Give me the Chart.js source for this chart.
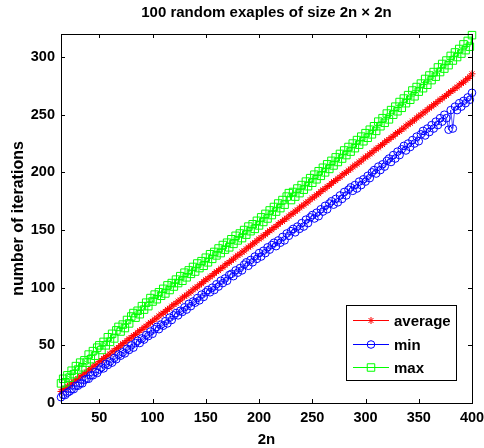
<!DOCTYPE html>
<html>
<head>
<meta charset="utf-8">
<script src="https://cdn.jsdelivr.net/npm/chart.js@4.4.1/dist/chart.umd.min.js"></script>
<style>
  html, body { margin: 0; padding: 0; background: #fff; }
  #wrap { width: 484px; height: 448px; }
</style>
</head>
<body>
<div id="wrap"><canvas id="iterChart" width="484" height="448"></canvas></div>
<script>
// matrix size 2n
const sizes = [
  14,16,18,20,22,24,26,28,30,32,34,36,38,40,42,44,46,48,50,52,
  54,56,58,60,62,64,66,68,70,72,74,76,78,80,82,84,86,88,90,92,
  94,96,98,100,102,104,106,108,110,112,114,116,118,120,122,124,126,128,130,132,
  134,136,138,140,142,144,146,148,150,152,154,156,158,160,162,164,166,168,170,172,
  174,176,178,180,182,184,186,188,190,192,194,196,198,200,202,204,206,208,210,212,
  214,216,218,220,222,224,226,228,230,232,234,236,238,240,242,244,246,248,250,252,
  254,256,258,260,262,264,266,268,270,272,274,276,278,280,282,284,286,288,290,292,
  294,296,298,300,302,304,306,308,310,312,314,316,318,320,322,324,326,328,330,332,
  334,336,338,340,342,344,346,348,350,352,354,356,358,360,362,364,366,368,370,372,
  374,376,378,380,382,384,386,388,390,392,394,396,398,400
];

const avgIters = [
  10.0,11.8,12.5,14.6,15.4,17.5,18.2,20.3,21.1,23.2,
  24.0,25.9,26.8,28.7,29.6,31.5,32.9,33.8,35.9,36.7,
  38.6,40.1,41.0,42.5,44.4,45.3,47.2,48.0,49.9,51.5,
  52.3,54.2,55.7,56.6,58.5,59.4,61.3,62.8,63.7,65.6,
  66.5,68.4,69.9,70.8,72.7,73.6,75.5,77.0,77.9,79.4,
  81.2,82.1,84.0,85.5,86.4,88.3,89.2,91.1,92.6,93.5,
  95.4,96.3,98.2,99.7,100.6,102.5,103.4,105.3,106.9,107.7,
  109.6,110.5,112.4,113.9,114.8,116.7,117.6,119.5,121.0,121.9,
  123.8,124.7,126.6,128.1,129.0,130.9,131.8,133.7,135.2,136.1,
  138.0,138.9,140.8,142.3,143.2,145.1,146.0,147.9,149.4,150.3,
  152.2,153.1,155.0,156.5,157.4,159.3,160.2,162.1,163.6,164.5,
  166.4,167.3,169.2,170.7,171.6,173.5,174.4,176.3,177.8,178.7,
  180.6,181.5,183.4,184.9,185.8,187.7,188.6,190.5,192.0,192.9,
  194.8,195.7,197.6,199.1,200.0,201.9,202.8,204.7,206.2,207.1,
  209.0,209.9,211.8,213.3,214.2,216.1,217.0,218.9,220.4,221.3,
  223.2,224.1,226.0,227.5,228.4,230.3,231.2,233.1,234.6,235.5,
  237.4,238.3,240.2,241.7,242.6,244.5,245.4,247.3,248.8,249.7,
  251.6,252.5,254.4,255.9,256.8,258.7,259.6,261.5,263.0,263.9,
  265.8,266.7,268.6,270.1,271.0,272.9,273.8,275.7,277.2,278.1,
  280.0,281.4,282.9,285.5
];

const minIters = [
  5,7,7,9,10,12,12,15,15,17,
  17,20,21,21,24,24,27,26,29,31,
  30,34,33,36,35,39,38,42,41,44,
  43,47,46,50,48,52,54,52,56,55,
  59,58,62,60,64,66,64,68,67,71,
  69,74,72,76,78,76,80,79,83,81,
  86,84,88,87,91,89,94,92,96,98,
  96,100,98,103,101,106,104,108,106,111,
  112,110,115,113,117,115,120,122,119,124,
  122,127,125,130,127,132,130,135,133,137,
  139,136,141,139,144,141,147,145,149,151,
  148,153,151,156,153,159,156,161,163,160,
  165,162,168,166,171,168,173,175,172,177,
  174,180,177,183,180,185,187,184,189,186,
  192,189,194,192,197,195,200,202,199,205,
  202,207,205,210,212,209,215,212,218,215,
  220,223,219,225,222,228,225,231,227,233,
  236,232,238,235,241,238,244,241,247,244,
  250,247,237,254,238,257,254,260,257,262,
  260,265,263,269
];

const maxIters = [
  17,21,18,24,22,28,25,32,29,35,
  31,37,35,42,38,45,41,48,50,46,
  53,50,57,53,60,56,63,66,62,68,
  65,72,69,75,78,74,80,77,84,81,
  87,84,91,88,94,90,96,93,99,95,
  102,98,104,101,107,104,110,106,113,109,
  115,112,118,114,121,117,123,119,126,122,
  129,125,131,128,134,130,137,133,139,135,
  142,138,145,141,147,143,150,146,153,149,
  155,151,158,154,161,157,164,160,167,163,
  170,166,173,169,176,172,179,182,176,183,
  179,186,182,189,185,192,188,195,191,198,
  194,201,197,204,200,207,203,210,206,213,
  209,216,212,219,215,222,218,225,221,228,
  224,231,227,234,230,237,233,240,236,244,
  240,247,243,251,246,254,250,257,253,261,
  256,264,260,267,263,271,266,274,270,277,
  273,281,276,284,280,287,283,291,287,294,
  290,297,293,301,297,304,300,307,303,311,
  306,314,309,319
];

const xTicks = [50, 100, 150, 200, 250, 300, 350, 400];
const yTicks = [0, 50, 100, 150, 200, 250, 300];

const FONT = 'Liberation Sans, Arial, Helvetica, sans-serif';

function pairs(ys) {
  return sizes.map((x, i) => ({ x: x, y: ys[i] }));
}

const series = [
  { label: 'average', data: avgIters, color: '#ff0000', style: 'star', radius: 3.5 },
  { label: 'min', data: minIters, color: '#0000ff', style: 'circle', radius: 3.8 },
  { label: 'max', data: maxIters, color: '#00ff00', style: 'rect', radius: 5.3 }
];

// axes box, inward ticks, titles and the legend, matlab style
const matlabFrame = {
  id: 'matlabFrame',
  afterDraw(chart) {
    const { ctx, chartArea: a, scales: { x, y } } = chart;
    ctx.save();
    ctx.strokeStyle = '#000';
    ctx.lineWidth = 1;
    ctx.strokeRect(Math.round(a.left) + 0.5, Math.round(a.top) + 0.5,
                   Math.round(a.right - a.left), Math.round(a.bottom - a.top));

    const tl = 4;
    ctx.beginPath();
    xTicks.forEach(v => {
      const px = Math.round(x.getPixelForValue(v)) + 0.5;
      ctx.moveTo(px, a.bottom); ctx.lineTo(px, a.bottom - tl);
      ctx.moveTo(px, a.top); ctx.lineTo(px, a.top + tl);
    });
    yTicks.forEach(v => {
      const py = Math.round(y.getPixelForValue(v)) + 0.5;
      ctx.moveTo(a.left, py); ctx.lineTo(a.left + tl, py);
      ctx.moveTo(a.right, py); ctx.lineTo(a.right - tl, py);
    });
    ctx.stroke();

    // titles
    ctx.fillStyle = '#000';
    ctx.textAlign = 'center';
    ctx.textBaseline = 'middle';
    ctx.font = 'bold 15px ' + FONT;
    ctx.fillText('100 random exaples of size 2n \u00d7 2n', (a.left + a.right) / 2, 13);
    ctx.font = 'bold 15px ' + FONT;
    ctx.fillText('2n', (a.left + a.right) / 2, 440);
    ctx.save();
    ctx.translate(19, (a.top + a.bottom) / 2);
    ctx.rotate(-Math.PI / 2);
    ctx.font = 'bold 16px ' + FONT;
    ctx.fillText('number of iterations', 0, 0);
    ctx.restore();

    // legend
    const bx = a.right - 126, by = a.bottom - 98, bw = 110, bh = 75;
    ctx.fillStyle = '#fff';
    ctx.fillRect(bx, by, bw, bh);
    ctx.strokeStyle = '#000';
    ctx.strokeRect(Math.round(bx) + 0.5, Math.round(by) + 0.5, bw, bh);
    ctx.font = 'bold 15px ' + FONT;
    ctx.textAlign = 'left';
    series.forEach((s, i) => {
      const ly = Math.round(by + 15 + i * 23.5) + 0.5;
      ctx.strokeStyle = s.color;
      ctx.lineWidth = 1;
      ctx.beginPath();
      ctx.moveTo(bx + 7, ly); ctx.lineTo(bx + 43, ly);
      ctx.stroke();
      ctx.fillStyle = 'rgba(0,0,0,0)';
      ctx.strokeStyle = s.color;
      Chart.helpers.drawPoint(ctx, {
        pointStyle: s.style, radius: s.radius, borderWidth: 1, rotation: 0
      }, bx + 25, ly);
      ctx.fillStyle = '#000';
      ctx.fillText(s.label, bx + 48, ly + 1);
    });
    ctx.restore();
  }
};

new Chart(document.getElementById('iterChart'), {
  type: 'line',
  data: {
    datasets: series.map((s, i) => ({
      label: s.label,
      data: pairs(s.data),
      borderColor: s.color,
      borderWidth: 0.7,
      pointStyle: s.style,
      pointRadius: s.radius,
      pointBorderColor: s.color,
      pointBackgroundColor: 'rgba(0,0,0,0)',
      pointBorderWidth: 1,
      tension: 0,
      clip: false,
      order: 3 - i
    }))
  },
  options: {
    responsive: false,
    animation: false,
    devicePixelRatio: 1,
    layout: { padding: { top: 34, right: 12, left: 0, bottom: 0 } },
    plugins: {
      legend: { display: false },
      tooltip: { enabled: false },
      title: { display: false }
    },
    scales: {
      x: {
        type: 'linear',
        min: 14,
        max: 400,
        afterBuildTicks: s => { s.ticks = xTicks.map(v => ({ value: v })); },
        afterFit: s => { s.height = 45; s.paddingLeft = 0; s.paddingRight = 0; },
        grid: { display: false, drawTicks: false },
        border: { display: false },
        ticks: {
          padding: 6,
          maxRotation: 0,
          autoSkip: false,
          color: '#000',
          font: { family: FONT, weight: 'bold', size: 14.5 }
        }
      },
      y: {
        type: 'linear',
        min: 0,
        max: 320,
        afterBuildTicks: s => { s.ticks = yTicks.map(v => ({ value: v })); },
        afterFit: s => { s.width = 61; s.paddingTop = 0; s.paddingBottom = 0; },
        grid: { display: false, drawTicks: false },
        border: { display: false },
        ticks: {
          padding: 6,
          autoSkip: false,
          color: '#000',
          font: { family: FONT, weight: 'bold', size: 14.5 }
        }
      }
    }
  },
  plugins: [matlabFrame]
});
</script>
</body>
</html>
